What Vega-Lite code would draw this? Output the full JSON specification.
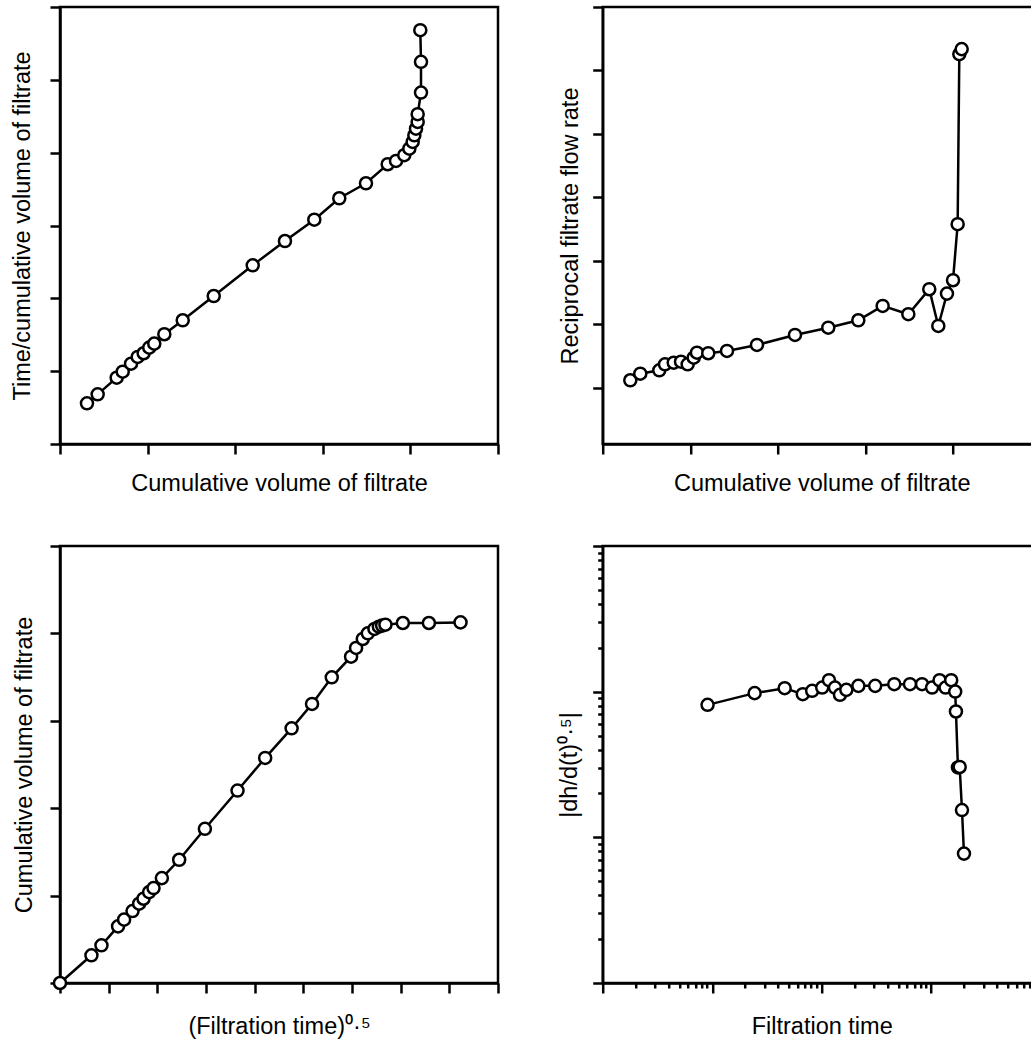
{
  "$schema": "https://vega.github.io/schema/vega-lite/v6.json",
  "background": "white",
  "padding": {"left": 9, "top": 4, "right": 0, "bottom": 5},
  "bounds": "flush",
  "columns": 2,
  "spacing": {"row": 102, "column": 104.7},
  "config": {
    "view": {"stroke": "black", "strokeWidth": 2.5},
    "axis": {
      "labels": false, "grid": false, "tickSize": 10, "tickWidth": 2.5, "tickColor": "black",
      "domainColor": "black", "domainWidth": 2.5,
      "titleFont": "Liberation Sans", "titleFontSize": 23.5, "titleFontWeight": "normal", "titleColor": "black"
    }
  },
  "concat": [
    {
      "width": 438, "height": 437,
      "data": {"values": [
        {"i":1,"x":0.308,"y":0.559},{"i":2,"x":0.430,"y":0.682},{"i":3,"x":0.647,"y":0.911},{"i":4,"x":0.716,"y":0.993},
        {"i":5,"x":0.811,"y":1.103},{"i":6,"x":0.887,"y":1.195},{"i":7,"x":0.955,"y":1.246},{"i":8,"x":1.019,"y":1.323},
        {"i":9,"x":1.076,"y":1.378},{"i":10,"x":1.191,"y":1.507},{"i":11,"x":1.401,"y":1.699},{"i":12,"x":1.755,"y":2.032},
        {"i":13,"x":2.200,"y":2.454},{"i":14,"x":2.568,"y":2.787},{"i":15,"x":2.903,"y":3.080},{"i":16,"x":3.188,"y":3.374},
        {"i":17,"x":3.493,"y":3.580},{"i":18,"x":3.741,"y":3.841},{"i":19,"x":3.836,"y":3.886},{"i":20,"x":3.930,"y":3.965},
        {"i":21,"x":3.988,"y":4.055},{"i":22,"x":4.026,"y":4.147},{"i":23,"x":4.045,"y":4.239},{"i":24,"x":4.064,"y":4.330},
        {"i":25,"x":4.083,"y":4.422},{"i":26,"x":4.083,"y":4.528},{"i":27,"x":4.121,"y":4.825},{"i":28,"x":4.121,"y":5.247},
        {"i":29,"x":4.113,"y":5.682}
      ]},
      "encoding": {
        "x": {"field": "x", "type": "quantitative", "scale": {"domain": [0, 5], "nice": false, "zero": false},
              "axis": {"title": "Cumulative volume of filtrate", "values": [0,1,2,3,4,5], "titlePadding": 16}},
        "y": {"field": "y", "type": "quantitative", "scale": {"domain": [0, 6], "nice": false, "zero": false},
              "axis": {"title": "Time/cumulative volume of filtrate", "values": [0,1,2,3,4,5,6], "titlePadding": 14}},
        "order": {"field": "i"}
      },
      "layer": [
        {"mark": {"type": "line", "color": "black", "strokeWidth": 2.5}},
        {"mark": {"type": "point", "shape": "circle", "filled": true, "fill": "white", "stroke": "black", "strokeWidth": 2.5, "size": 145, "opacity": 1}}
      ]
    },
    {
      "width": 438, "height": 437,
      "data": {"values": [
        {"i":1,"x":0.315,"y":0.115},{"i":2,"x":0.429,"y":0.219},{"i":3,"x":0.646,"y":0.272},{"i":4,"x":0.711,"y":0.367},
        {"i":5,"x":0.811,"y":0.392},{"i":6,"x":0.894,"y":0.408},{"i":7,"x":0.970,"y":0.367},{"i":8,"x":1.039,"y":0.471},
        {"i":9,"x":1.076,"y":0.550},{"i":10,"x":1.205,"y":0.541},{"i":11,"x":1.419,"y":0.577},{"i":12,"x":1.761,"y":0.672},
        {"i":13,"x":2.195,"y":0.829},{"i":14,"x":2.575,"y":0.944},{"i":15,"x":2.918,"y":1.061},{"i":16,"x":3.196,"y":1.287},
        {"i":17,"x":3.489,"y":1.156},{"i":18,"x":3.728,"y":1.550},{"i":19,"x":3.831,"y":0.971},{"i":20,"x":3.930,"y":1.481},
        {"i":21,"x":3.999,"y":1.692},{"i":22,"x":4.052,"y":2.575},{"i":23,"x":4.071,"y":5.257},{"i":24,"x":4.098,"y":5.336}
      ]},
      "encoding": {
        "x": {"field": "x", "type": "quantitative", "scale": {"domain": [0, 5], "nice": false, "zero": false},
              "axis": {"title": "Cumulative volume of filtrate", "values": [0,1,2,3,4,5], "titlePadding": 16}},
        "y": {"field": "y", "type": "quantitative", "scale": {"domain": [-0.89, 6], "nice": false, "zero": false},
              "axis": {"title": "Reciprocal filtrate flow rate", "values": [0,1,2,3,4,5,6], "titlePadding": 8.5}},
        "order": {"field": "i"}
      },
      "layer": [
        {"mark": {"type": "line", "color": "black", "strokeWidth": 2.5}},
        {"mark": {"type": "point", "shape": "circle", "filled": true, "fill": "white", "stroke": "black", "strokeWidth": 2.5, "size": 145, "opacity": 1}}
      ]
    },
    {
      "width": 438, "height": 437,
      "data": {"values": [
        {"i":1,"x":0,"y":0},{"i":2,"x":0.646,"y":0.317},{"i":3,"x":0.852,"y":0.431},{"i":4,"x":1.193,"y":0.648},
        {"i":5,"x":1.317,"y":0.725},{"i":6,"x":1.490,"y":0.823},{"i":7,"x":1.626,"y":0.907},{"i":8,"x":1.716,"y":0.964},
        {"i":9,"x":1.831,"y":1.040},{"i":10,"x":1.922,"y":1.086},{"i":11,"x":2.093,"y":1.200},{"i":12,"x":2.449,"y":1.410},
        {"i":13,"x":2.977,"y":1.764},{"i":14,"x":3.648,"y":2.202},{"i":15,"x":4.216,"y":2.575},{"i":16,"x":4.759,"y":2.914},
        {"i":17,"x":5.179,"y":3.193},{"i":18,"x":5.584,"y":3.498},{"i":19,"x":5.981,"y":3.734},{"i":20,"x":6.084,"y":3.834},
        {"i":21,"x":6.222,"y":3.936},{"i":22,"x":6.325,"y":4.001},{"i":23,"x":6.461,"y":4.051},{"i":24,"x":6.552,"y":4.077},
        {"i":25,"x":6.619,"y":4.089},{"i":26,"x":6.687,"y":4.100},{"i":27,"x":7.045,"y":4.119},{"i":28,"x":7.580,"y":4.119},
        {"i":29,"x":8.230,"y":4.126}
      ]},
      "encoding": {
        "x": {"field": "x", "type": "quantitative", "scale": {"domain": [0, 9], "nice": false, "zero": false},
              "axis": {"title": "(Filtration time)⁰·⁵", "values": [0,1,2,3,4,5,6,7,8,9], "titlePadding": 20}},
        "y": {"field": "y", "type": "quantitative", "scale": {"domain": [0, 5], "nice": false, "zero": false},
              "axis": {"title": "Cumulative volume of filtrate", "values": [0,1,2,3,4,5], "titlePadding": 12.5}},
        "order": {"field": "i"}
      },
      "layer": [
        {"mark": {"type": "line", "color": "black", "strokeWidth": 2.5}},
        {"mark": {"type": "point", "shape": "circle", "filled": true, "fill": "white", "stroke": "black", "strokeWidth": 2.5, "size": 145, "opacity": 1}}
      ]
    },
    {
      "width": 438, "height": 437,
      "data": {"values": [
        {"i":1,"x":9.07,"y":8.12},{"i":2,"x":24.4,"y":9.77},{"i":3,"x":45.9,"y":10.57},{"i":4,"x":67.2,"y":9.61},
        {"i":5,"x":81.8,"y":10.13},{"i":6,"x":101.1,"y":10.67},{"i":7,"x":116.5,"y":11.99},{"i":8,"x":132.2,"y":10.67},
        {"i":9,"x":146.9,"y":9.51},{"i":10,"x":167.9,"y":10.29},{"i":11,"x":216.3,"y":10.96},{"i":12,"x":308,"y":10.96},
        {"i":13,"x":460,"y":11.26},{"i":14,"x":640,"y":11.26},{"i":15,"x":825,"y":11.26},{"i":16,"x":1019,"y":10.67},
        {"i":17,"x":1192,"y":11.99},{"i":18,"x":1353,"y":10.67},{"i":19,"x":1523,"y":11.99},{"i":20,"x":1657,"y":10.02},
        {"i":21,"x":1683,"y":7.31},{"i":22,"x":1755,"y":3.02},{"i":23,"x":1820,"y":3.04},{"i":24,"x":1910,"y":1.54},
        {"i":25,"x":1992,"y":0.773}
      ]},
      "encoding": {
        "x": {"field": "x", "type": "quantitative", "scale": {"type": "log", "domain": [1, 10000], "nice": false},
              "axis": {"title": "Filtration time", "titlePadding": 20,
                       "values": [1,2,3,4,5,6,7,8,9,10,20,30,40,50,60,70,80,90,100,200,300,400,500,600,700,800,900,1000,2000,3000,4000,5000,6000,7000,8000,9000,10000],
                       "tickSize": {"condition": {"test": "indexof([1,10,100,1000,10000], datum.value) >= 0", "value": 10}, "value": 5}}},
        "y": {"field": "y", "type": "quantitative", "scale": {"type": "log", "domain": [0.1, 100], "nice": false},
              "axis": {"title": "|dh/d(t)⁰·⁵|", "titlePadding": 9.5,
                       "values": [0.1,0.2,0.3,0.4,0.5,0.6,0.7,0.8,0.9,1,2,3,4,5,6,7,8,9,10,20,30,40,50,60,70,80,90,100],
                       "tickSize": {"condition": {"test": "indexof([0.1,1,10,100], datum.value) >= 0", "value": 10}, "value": 5}}},
        "order": {"field": "i"}
      },
      "layer": [
        {"mark": {"type": "line", "color": "black", "strokeWidth": 2.5}},
        {"mark": {"type": "point", "shape": "circle", "filled": true, "fill": "white", "stroke": "black", "strokeWidth": 2.5, "size": 145, "opacity": 1}}
      ]
    }
  ]
}
